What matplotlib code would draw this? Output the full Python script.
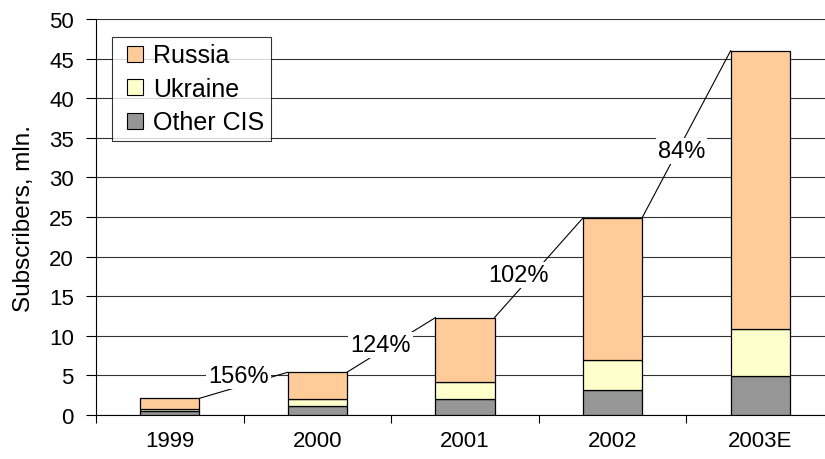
import numpy as np
import matplotlib.pyplot as plt
from matplotlib.lines import Line2D

plt.rcParams['font.family'] = ['Liberation Sans', 'DejaVu Sans']

years = ['1999', '2000', '2001', '2002', '2003E']
other_cis = [0.5, 1.1, 2.0, 3.2, 4.9]
ukraine = [0.3, 0.9, 2.2, 3.7, 6.0]
russia = [1.3, 3.4, 8.1, 18.0, 35.1]
growth = ['156%', '124%', '102%', '84%']
# label nudges in pixels from the middle of each connector line
nudge = [(-5, 9), (-11, 0), (-20, -7), (-5, -17)]

col_russia, col_ukraine, col_other = '#FFCC99', '#FFFFCC', '#969696'

fig = plt.figure(figsize=(8.25, 4.6), dpi=100)
ax = fig.add_axes([96 / 825, 1 - 416 / 460, 738 / 825, 396 / 460])

x = np.arange(len(years))
w = 0.4
other_cis = np.array(other_cis)
ukraine = np.array(ukraine)
russia = np.array(russia)
totals = other_cis + ukraine + russia

ax.bar(x, other_cis, w, color=col_other, edgecolor='black', lw=0.9, zorder=3)
ax.bar(x, ukraine, w, bottom=other_cis, color=col_ukraine, edgecolor='black', lw=0.9, zorder=3)
ax.bar(x, russia, w, bottom=other_cis + ukraine, color=col_russia, edgecolor='black', lw=0.9,
       zorder=3)

# series lines between bar tops with growth labels
for i in range(len(years) - 1):
    x0, y0 = x[i] + w / 2, totals[i]
    x1, y1 = x[i + 1] - w / 2, totals[i + 1]
    ax.plot([x0, x1], [y0, y1], color='black', lw=0.8, zorder=2)
    ax.annotate(growth[i], ((x0 + x1) / 2, (y0 + y1) / 2),
                xytext=(nudge[i][0] * 0.72, nudge[i][1] * 0.72), textcoords='offset points',
                ha='center', va='center', fontsize=17, zorder=4,
                bbox=dict(facecolor='white', edgecolor='none', pad=1.5))

ax.set_xlim(-0.5, len(years) - 0.5)
ax.set_ylim(0, 50)
ax.set_yticks(range(0, 51, 5))
ax.set_xticks(x)
ax.set_xticklabels(years)
ax.set_xticks(np.arange(-0.5, len(years), 1), minor=True)
ax.tick_params(axis='x', which='major', length=0, pad=11, labelsize=16)
ax.tick_params(axis='x', which='minor', length=6, width=0.8, color='black')
ax.tick_params(axis='y', length=7, width=0.8, labelsize=16, pad=9)
ax.yaxis.grid(True, color='#333333', lw=0.8, zorder=0)
ax.set_ylabel('Subscribers, mln.', fontsize=17.5)
ax.yaxis.set_label_coords(-0.083, 0.5)

for s in ['top', 'right']:
    ax.spines[s].set_visible(False)
ax.spines['left'].set_linewidth(0.8)
ax.spines['bottom'].set_linewidth(0.8)

handles = [Line2D([], [], ls='none', marker='s', markersize=11.5, markerfacecolor=c,
                  markeredgecolor='black', markeredgewidth=0.8)
           for c in (col_russia, col_ukraine, col_other)]
leg = ax.legend(handles, ['Russia', 'Ukraine', 'Other CIS'], loc='upper left',
                bbox_to_anchor=(16 / 738, 1 - 18 / 396),
                fontsize=18, frameon=True, fancybox=False, edgecolor='black',
                handlelength=1.3, handletextpad=0.1, labelspacing=0.38,
                borderpad=0.25, borderaxespad=0)
leg.get_frame().set_linewidth(0.8)

fig.savefig('out.png', dpi=100)
